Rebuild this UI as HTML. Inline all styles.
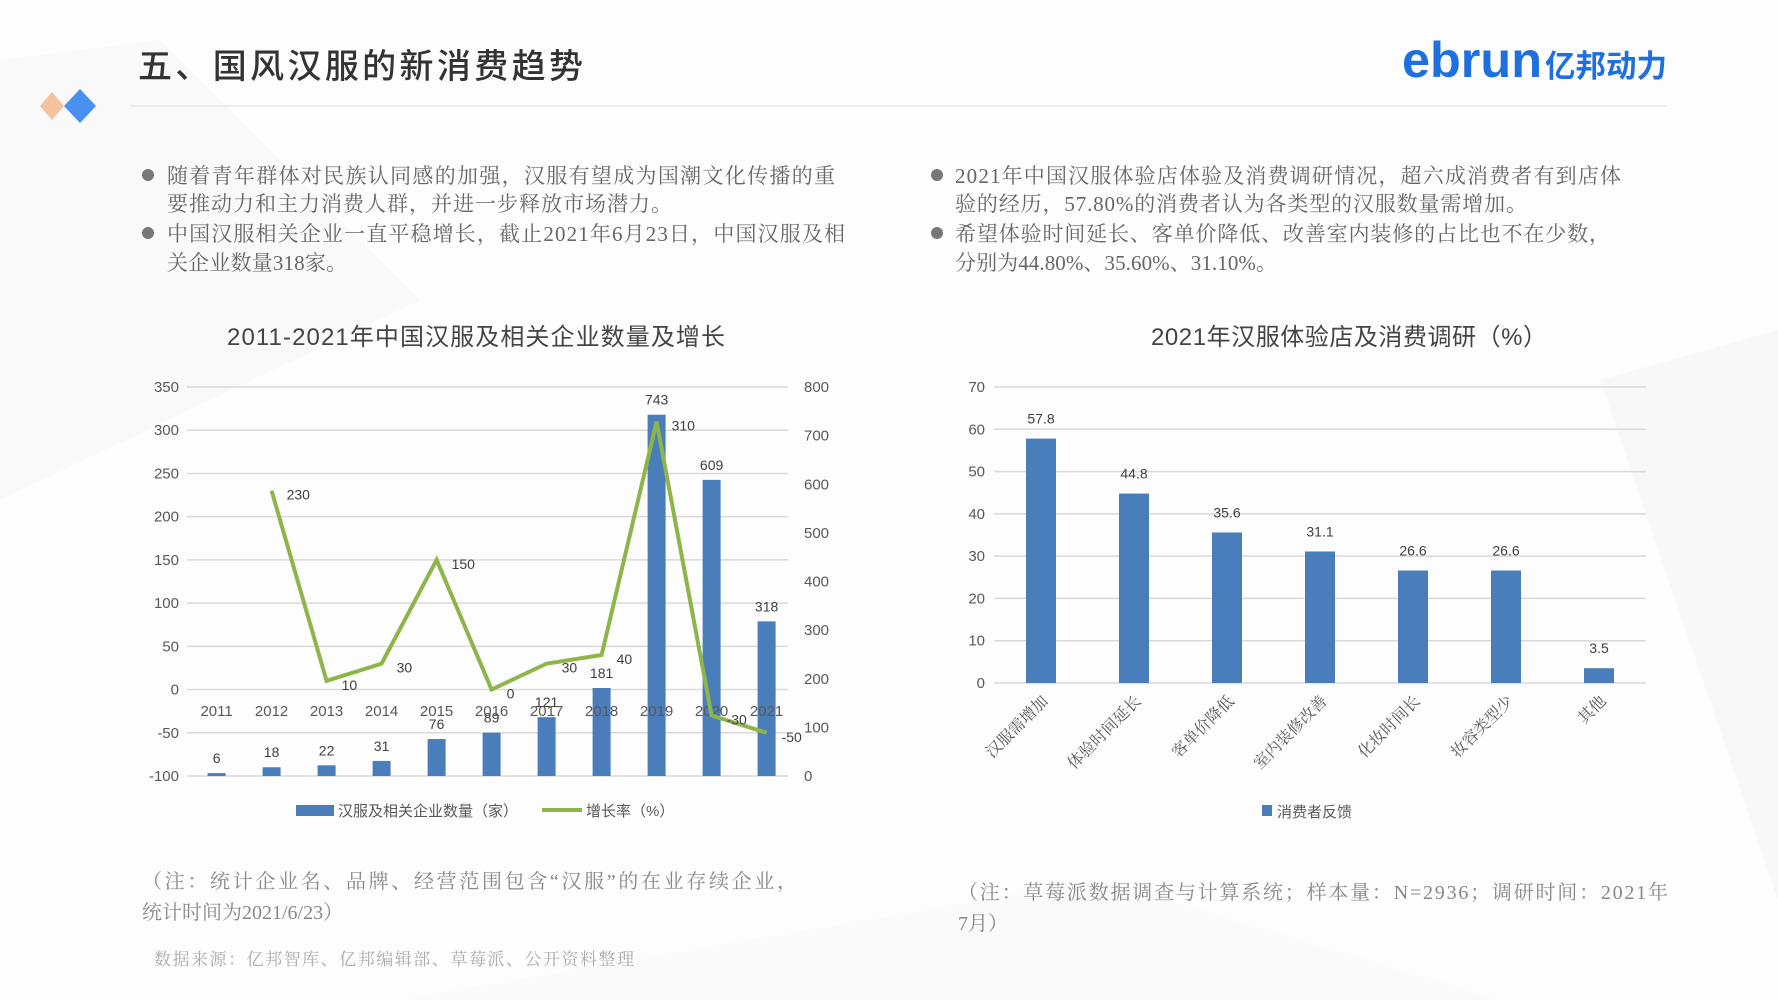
<!DOCTYPE html>
<html><head><meta charset="utf-8">
<style>
html,body{margin:0;padding:0;background:#fff;}
svg{display:block;}
.serif{font-family:"Liberation Serif","Noto Serif CJK SC",serif;}
.sans{font-family:"Liberation Sans","Noto Sans CJK SC",sans-serif;}
</style></head>
<body>
<svg id="page" width="1778" height="1000" viewBox="0 0 1778 1000" xmlns="http://www.w3.org/2000/svg">
  <rect width="1778" height="1000" fill="#fdfdfd"/>
  <polygon points="0,60 160,40 420,300 0,500" fill="#f9f9fa"/>
  <polygon points="1600,380 1778,330 1778,900" fill="#f8f8f9"/>
  <polygon points="400,1000 1100,880 1500,1000" fill="#fafafb"/>

  <!-- header -->
  <text x="138" y="78" class="sans" font-size="34" fill="#333" font-weight="500" textLength="445">五、国风汉服的新消费趋势</text>
  <line x1="130" y1="106" x2="1667" y2="106" stroke="#ececec" stroke-width="2"/>
  <polygon points="52,92 64,106 52,120 40,106" fill="#f4c29c"/>
  <polygon points="80,89 96,106 80,123 64,106" fill="#4a90f0"/>
  <g>
    <text x="1402" y="77" font-family="Liberation Sans,sans-serif" font-weight="bold" font-size="50" fill="#1e6fe0" textLength="140" lengthAdjust="spacingAndGlyphs">ebrun</text>
    <text x="1545" y="77" font-family="Liberation Sans,'Noto Sans CJK SC',sans-serif" font-weight="bold" font-size="31" fill="#1e6fe0" textLength="122" lengthAdjust="spacingAndGlyphs">亿邦动力</text>
  </g>

  <!-- bullets left -->
  <g class="serif" font-size="21" fill="#666">
    <circle cx="148" cy="175" r="6" fill="#777"/>
    <text x="167" y="183" textLength="668">随着青年群体对民族认同感的加强，汉服有望成为国潮文化传播的重</text>
    <text x="167" y="211" textLength="505">要推动力和主力消费人群，并进一步释放市场潜力。</text>
    <circle cx="148" cy="233" r="6" fill="#777"/>
    <text x="167" y="241" textLength="678">中国汉服相关企业一直平稳增长，截止2021年6月23日，中国汉服及相</text>
    <text x="167" y="270" textLength="180">关企业数量318家。</text>
  </g>
  <!-- bullets right -->
  <g class="serif" font-size="21" fill="#666">
    <circle cx="937" cy="175" r="6" fill="#777"/>
    <text x="955" y="183" textLength="666">2021年中国汉服体验店体验及消费调研情况，超六成消费者有到店体</text>
    <text x="955" y="211" textLength="572">验的经历，57.80%的消费者认为各类型的汉服数量需增加。</text>
    <circle cx="937" cy="233" r="6" fill="#777"/>
    <text x="955" y="241" textLength="655">希望体验时间延长、客单价降低、改善室内装修的占比也不在少数，</text>
    <text x="955" y="270" textLength="322">分别为44.80%、35.60%、31.10%。</text>
  </g>

  <!-- chart titles -->
  <text x="476" y="345" text-anchor="middle" class="sans" font-size="24" fill="#444" textLength="498">2011-2021年中国汉服及相关企业数量及增长</text>
  <text x="1349" y="345" text-anchor="middle" class="sans" font-size="24" fill="#444" textLength="396">2021年汉服体验店及消费调研（%）</text>

  <g id="left-chart"></g>
  <g id="right-chart"></g>

  <!-- notes -->
  <g class="serif" font-size="20" fill="#888">
    <text x="142" y="888" textLength="655">（注：统计企业名、品牌、经营范围包含“汉服”的在业存续企业，</text>
    <text x="142" y="919">统计时间为2021/6/23）</text>
    <text x="958" y="899" textLength="710">（注：草莓派数据调查与计算系统；样本量：N=2936；调研时间：2021年</text>
    <text x="958" y="930">7月）</text>
  </g>
  <text x="154" y="965" class="serif" font-size="17" fill="#aaa" textLength="480">数据来源：亿邦智库、亿邦编辑部、草莓派、公开资料整理</text>
</svg>
<script>
const NS='http://www.w3.org/2000/svg';
// left chart data
const years=['2011','2012','2013','2014','2015','2016','2017','2018','2019','2020','2021'];
const companyCounts=[6,18,22,31,76,89,121,181,743,609,318];
const growthRates=[null,230,10,30,150,0,30,40,310,-30,-50];
const leftTicks=[350,300,250,200,150,100,50,0,-50,-100];
const rightTicks=[800,700,600,500,400,300,200,100,0];
// right chart data
const surveyCats=['汉服需增加','体验时间延长','客单价降低','室内装修改善','化妆时间长','妆容类型少','其他'];
const surveyValues=[57.8,44.8,35.6,31.1,26.6,26.6,3.5];
const surveyTicks=[70,60,50,40,30,20,10,0];

function mk(tag,attrs,parent,txt){const e=document.createElementNS(NS,tag);for(const k in attrs)e.setAttribute(k,attrs[k]);if(txt!==undefined)e.textContent=txt;parent.appendChild(e);return e;}
const FONT='"Liberation Sans","Noto Sans CJK SC",sans-serif';

// ---- left chart ----
(function(){
  const g=document.getElementById('left-chart');
  const x0=187,x1=788,yTop=387,yBot=776;
  const yL=v=>yBot-(v+100)/450*(yBot-yTop);
  const yR=v=>yBot-v/800*(yBot-yTop);
  const xc=i=>216.6+55*i;
  leftTicks.forEach(t=>{
    const l=mk('line',{x1:x0,x2:x1,y1:yL(t),y2:yL(t),stroke:'#d9d9d9','stroke-width':1.5},g);
    
    
    const tx=mk('text',{x:179,y:yL(t)+5,'text-anchor':'end','font-size':15,fill:'#595959','font-family':FONT},g,String(t));
    
    
  });
  rightTicks.forEach(t=>{
    const tx=mk('text',{x:804,y:yR(t)+5,'font-size':15,fill:'#595959','font-family':FONT},g,String(t));
    
    
  });
  companyCounts.forEach((v,i)=>{
    const r=mk('rect',{x:xc(i)-9,y:yR(v),width:18,height:yBot-yR(v),fill:'#4a7ebb'},g);
    
    
    const tx=mk('text',{x:xc(i),y:yR(v)-10,'text-anchor':'middle','font-size':14,fill:'#404040','font-family':FONT},g,String(v));
    
    
  });
  years.forEach((y,i)=>{
    const tx=mk('text',{x:xc(i),y:716,'text-anchor':'middle','font-size':15,fill:'#595959','font-family':FONT},g,y);
    
    
  });
  let pts=[];
  growthRates.forEach((v,i)=>{if(v!==null)pts.push(xc(i)+','+yL(v));});
  const pl=mk('polyline',{points:pts.join(' '),fill:'none',stroke:'#8db54a','stroke-width':4,'stroke-linejoin':'miter'},g);
  
  
  growthRates.forEach((v,i)=>{
    if(v===null)return;
    const tx=mk('text',{x:xc(i)+15,y:yL(v)+9,'font-size':14,fill:'#404040','font-family':FONT},g,String(v));
    
    
  });
  const lr=mk('rect',{x:296,y:805,width:38,height:11,fill:'#4a7ebb'},g);
  
  
  const lt=mk('text',{x:338,y:816,'font-size':15,fill:'#595959','font-family':FONT},g,'汉服及相关企业数量（家）');
  
  
  const ll=mk('line',{x1:542,x2:582,y1:810,y2:810,stroke:'#8db54a','stroke-width':4},g);
  
  
  const lt2=mk('text',{x:586,y:816,'font-size':15,fill:'#595959','font-family':FONT},g,'增长率（%）');
  
  
})();

// ---- right chart ----
(function(){
  const g=document.getElementById('right-chart');
  const x0=994,x1=1646,yTop=387,yBot=683;
  const y=v=>yBot-v/70*(yBot-yTop);
  const band=93, xc=i=>1041+band*i;
  surveyTicks.forEach(t=>{
    const l=mk('line',{x1:x0,x2:x1,y1:y(t),y2:y(t),stroke:'#d9d9d9','stroke-width':1.5},g);
    
    
    const tx=mk('text',{x:985,y:y(t)+5,'text-anchor':'end','font-size':15,fill:'#595959','font-family':FONT},g,String(t));
    
    
  });
  surveyValues.forEach((v,i)=>{
    const r=mk('rect',{x:xc(i)-15,y:y(v),width:30,height:yBot-y(v),fill:'#4a7ebb'},g);
    
    
    const tx=mk('text',{x:xc(i),y:y(v)-15,'text-anchor':'middle','font-size':14,fill:'#404040','font-family':FONT},g,String(v));
    
    
  });
  surveyCats.forEach((c,i)=>{
    const tx=mk('text',{x:xc(i)+8,y:702,'text-anchor':'end','font-size':16,fill:'#595959','font-family':'"Liberation Serif","Noto Serif CJK SC",serif',transform:'rotate(-45 '+(xc(i)+8)+' 702)'},g,c);
    
    
  });
  const lr=mk('rect',{x:1262,y:805,width:10,height:11,fill:'#4a7ebb'},g);
  
  
  const lt=mk('text',{x:1277,y:817,'font-size':15,fill:'#595959','font-family':FONT},g,'消费者反馈');
  
  
})();
</script>
</body></html>
